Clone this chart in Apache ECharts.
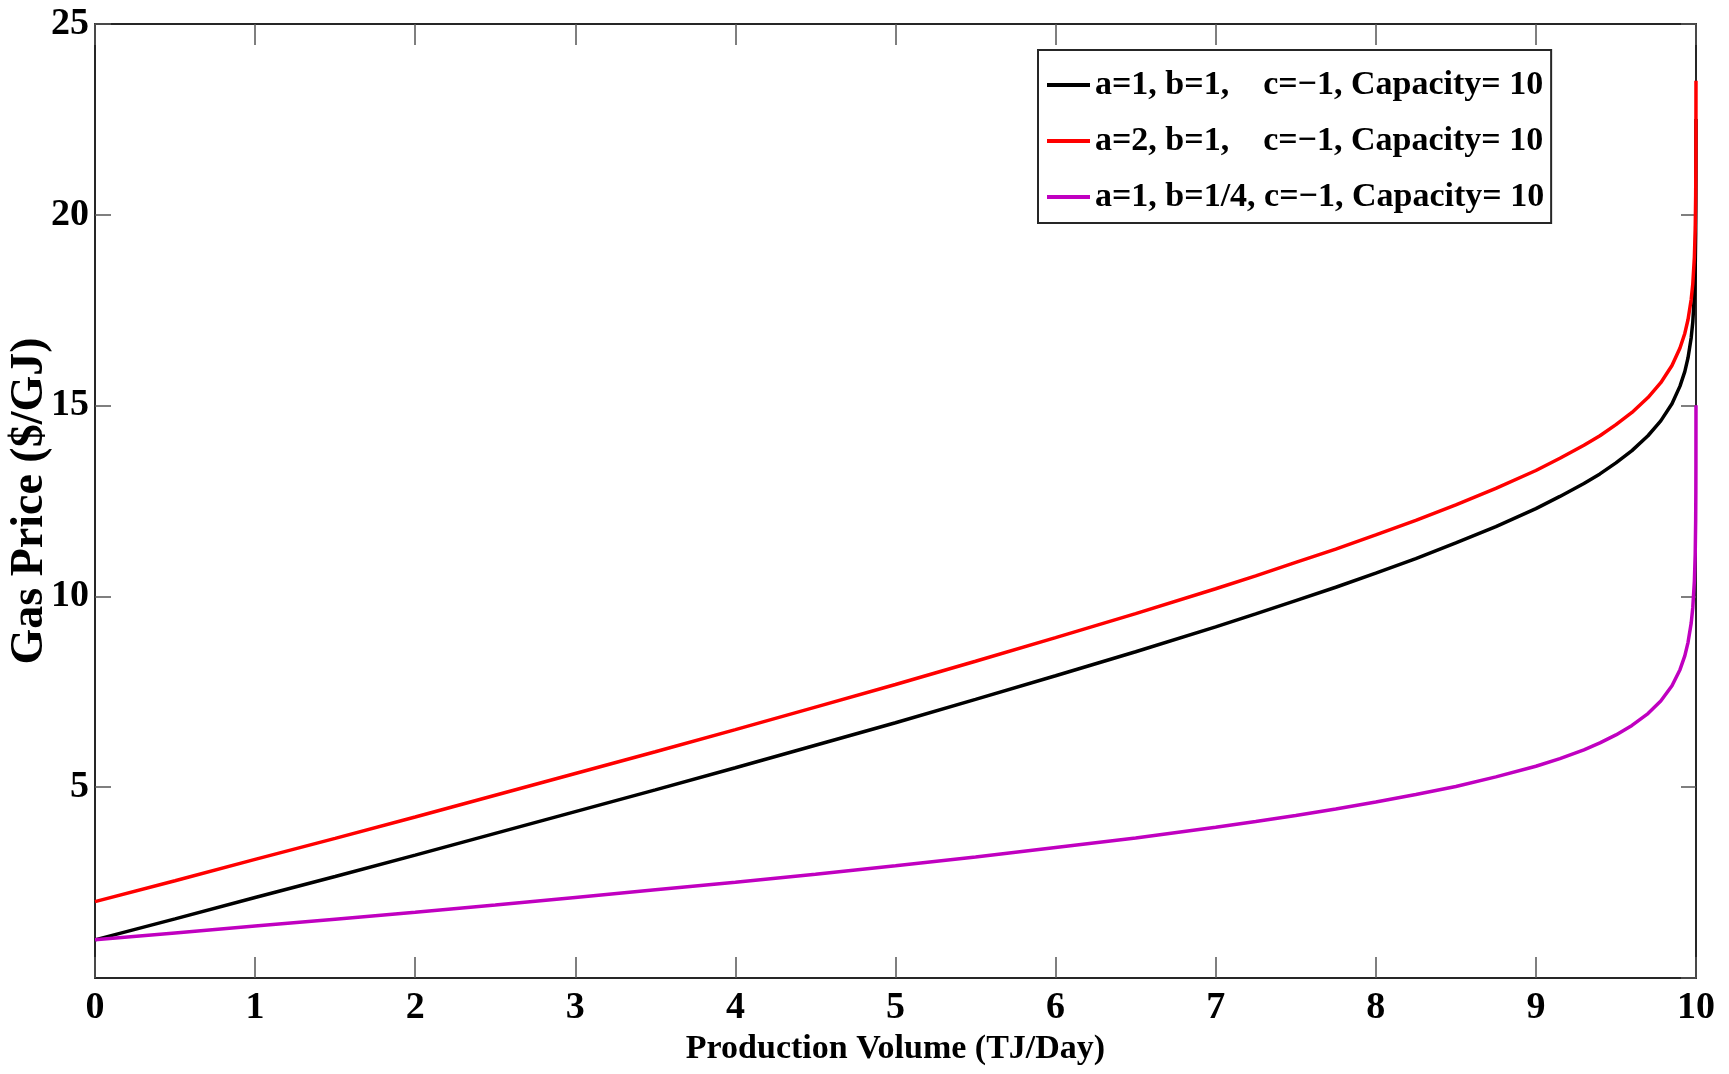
<!DOCTYPE html>
<html>
<head>
<meta charset="utf-8">
<script src="https://cdn.jsdelivr.net/npm/echarts@6/dist/echarts.min.js"></script>
<style>
html,body{margin:0;padding:0;background:#fff;}
#chart{width:1729px;height:1074px;}
</style>
</head>
<body>
<div id="chart"></div>
<script>
// Production volume (TJ/Day)
const volume = [0, 0.5, 1, 1.5, 2, 2.5, 3, 3.5, 4, 4.5, 5, 5.5, 6, 6.5, 7, 7.25, 7.5, 7.75, 8, 8.25, 8.5, 8.75, 9, 9.15, 9.3, 9.4, 9.5, 9.6, 9.7, 9.78, 9.85, 9.9, 9.93, 9.95, 9.97, 9.98, 9.99, 9.995, 9.998, 9.999, 9.9995, 9.9999];
// Gas price ($/GJ)
const priceA1B1 = [1.00, 1.55, 2.11, 2.66, 3.22, 3.79, 4.36, 4.93, 5.51, 6.10, 6.69, 7.30, 7.92, 8.55, 9.20, 9.54, 9.89, 10.24, 10.61, 10.99, 11.40, 11.83, 12.30, 12.62, 12.96, 13.21, 13.50, 13.82, 14.21, 14.60, 15.05, 15.51, 15.89, 16.25, 16.78, 17.19, 17.90, 18.60, 19.52, 20.21, 20.90, 22.51];
const priceA2B1 = [2.00, 2.55, 3.11, 3.66, 4.22, 4.79, 5.36, 5.93, 6.51, 7.10, 7.69, 8.30, 8.92, 9.55, 10.20, 10.54, 10.89, 11.24, 11.61, 11.99, 12.40, 12.83, 13.30, 13.62, 13.96, 14.21, 14.50, 14.82, 15.21, 15.60, 16.05, 16.51, 16.89, 17.25, 17.78, 18.19, 18.90, 19.60, 20.52, 21.21, 21.90, 23.51];
const priceA1B025 = [1.00, 1.18, 1.36, 1.54, 1.72, 1.91, 2.11, 2.31, 2.51, 2.72, 2.94, 3.17, 3.42, 3.67, 3.95, 4.10, 4.26, 4.43, 4.61, 4.81, 5.02, 5.27, 5.55, 5.75, 5.98, 6.16, 6.37, 6.62, 6.93, 7.26, 7.66, 8.08, 8.44, 8.79, 9.30, 9.71, 10.41, 11.10, 12.02, 12.71, 13.40, 15.01];
const seriesNames = ['a=1, b=1,    c=\u22121, Capacity= 10', 'a=2, b=1,    c=\u22121, Capacity= 10', 'a=1, b=1/4, c=\u22121, Capacity= 10'];
const seriesColors = ['#000000', '#ff0000', '#c000c0'];
const xTicks = [0, 10, 1];
const yTicks = [0, 25, 5];

const FONT = "'Liberation Serif', 'Times New Roman', serif";
const pair = (ys) => volume.map((x, i) => [x, ys[i]]);
const allY = [priceA1B1, priceA2B1, priceA1B025];

const chart = echarts.init(document.getElementById('chart'));
const axisLine = {show: true, onZero: false, lineStyle: {color: '#262626', width: 2}};
chart.setOption({
  backgroundColor: '#ffffff',
  animation: false,
  grid: {left: 95, right: 33, top: 24, height: 954, containLabel: false, outerBoundsMode: 'none'},
  legend: {
    orient: 'vertical',
    left: 1038,
    top: 50,
    backgroundColor: '#ffffff',
    borderColor: '#262626',
    borderWidth: 2,
    borderRadius: 0,
    padding: [15, 7, 6, 9],
    itemGap: 16,
    itemWidth: 43,
    itemHeight: 4,
    icon: 'rect',
    textStyle: {fontFamily: FONT, fontWeight: 'bold', fontSize: 34, color: '#000', lineHeight: 40},
    data: seriesNames.map((n, i) => ({name: n, icon: 'rect', itemStyle: {color: seriesColors[i]}}))
  },
  xAxis: [{
    type: 'value', min: xTicks[0], max: xTicks[1], interval: xTicks[2],
    name: 'Production Volume (TJ/Day)', nameLocation: 'middle', nameGap: 38,
    nameTextStyle: {fontFamily: FONT, fontWeight: 'bold', fontSize: 34, color: '#000'},
    axisLine: axisLine,
    axisTick: {show: true, inside: true, length: 21, lineStyle: {color: '#555', width: 1.5}},
    axisLabel: {fontFamily: FONT, fontWeight: 'bold', fontSize: 38, color: '#000', margin: 11},
    splitLine: {show: false}
  }, {
    type: 'value', position: 'top', min: xTicks[0], max: xTicks[1], interval: xTicks[2],
    axisLine: axisLine,
    axisTick: {show: true, inside: true, length: 21, lineStyle: {color: '#555', width: 1.5}},
    axisLabel: {show: false}, splitLine: {show: false}
  }],
  yAxis: [{
    type: 'value', min: yTicks[0], max: yTicks[1], interval: yTicks[2],
    name: 'Gas Price ($/GJ)', nameLocation: 'middle', nameGap: 42, nameMoveOverlap: false,
    nameTextStyle: {fontFamily: FONT, fontWeight: 'bold', fontSize: 46, color: '#000'},
    axisLine: axisLine,
    axisTick: {show: true, inside: true, length: 16, lineStyle: {color: '#555', width: 1.5}},
    axisLabel: {fontFamily: FONT, fontWeight: 'bold', fontSize: 38, color: '#000', margin: 6, showMinLabel: false},
    splitLine: {show: false}
  }, {
    type: 'value', position: 'right', min: yTicks[0], max: yTicks[1], interval: yTicks[2],
    axisLine: axisLine,
    axisTick: {show: true, inside: true, length: 15, lineStyle: {color: '#555', width: 1.5}},
    axisLabel: {show: false}, splitLine: {show: false}
  }],
  series: allY.map((ys, i) => ({
    name: seriesNames[i],
    type: 'line',
    xAxisIndex: 0,
    yAxisIndex: 0,
    data: pair(ys),
    showSymbol: false,
    symbol: 'none',
    smooth: false,
    lineStyle: {color: seriesColors[i], width: 3.5},
    itemStyle: {color: seriesColors[i]},
    z: 2 + i
  }))
});
</script>
</body>
</html>
